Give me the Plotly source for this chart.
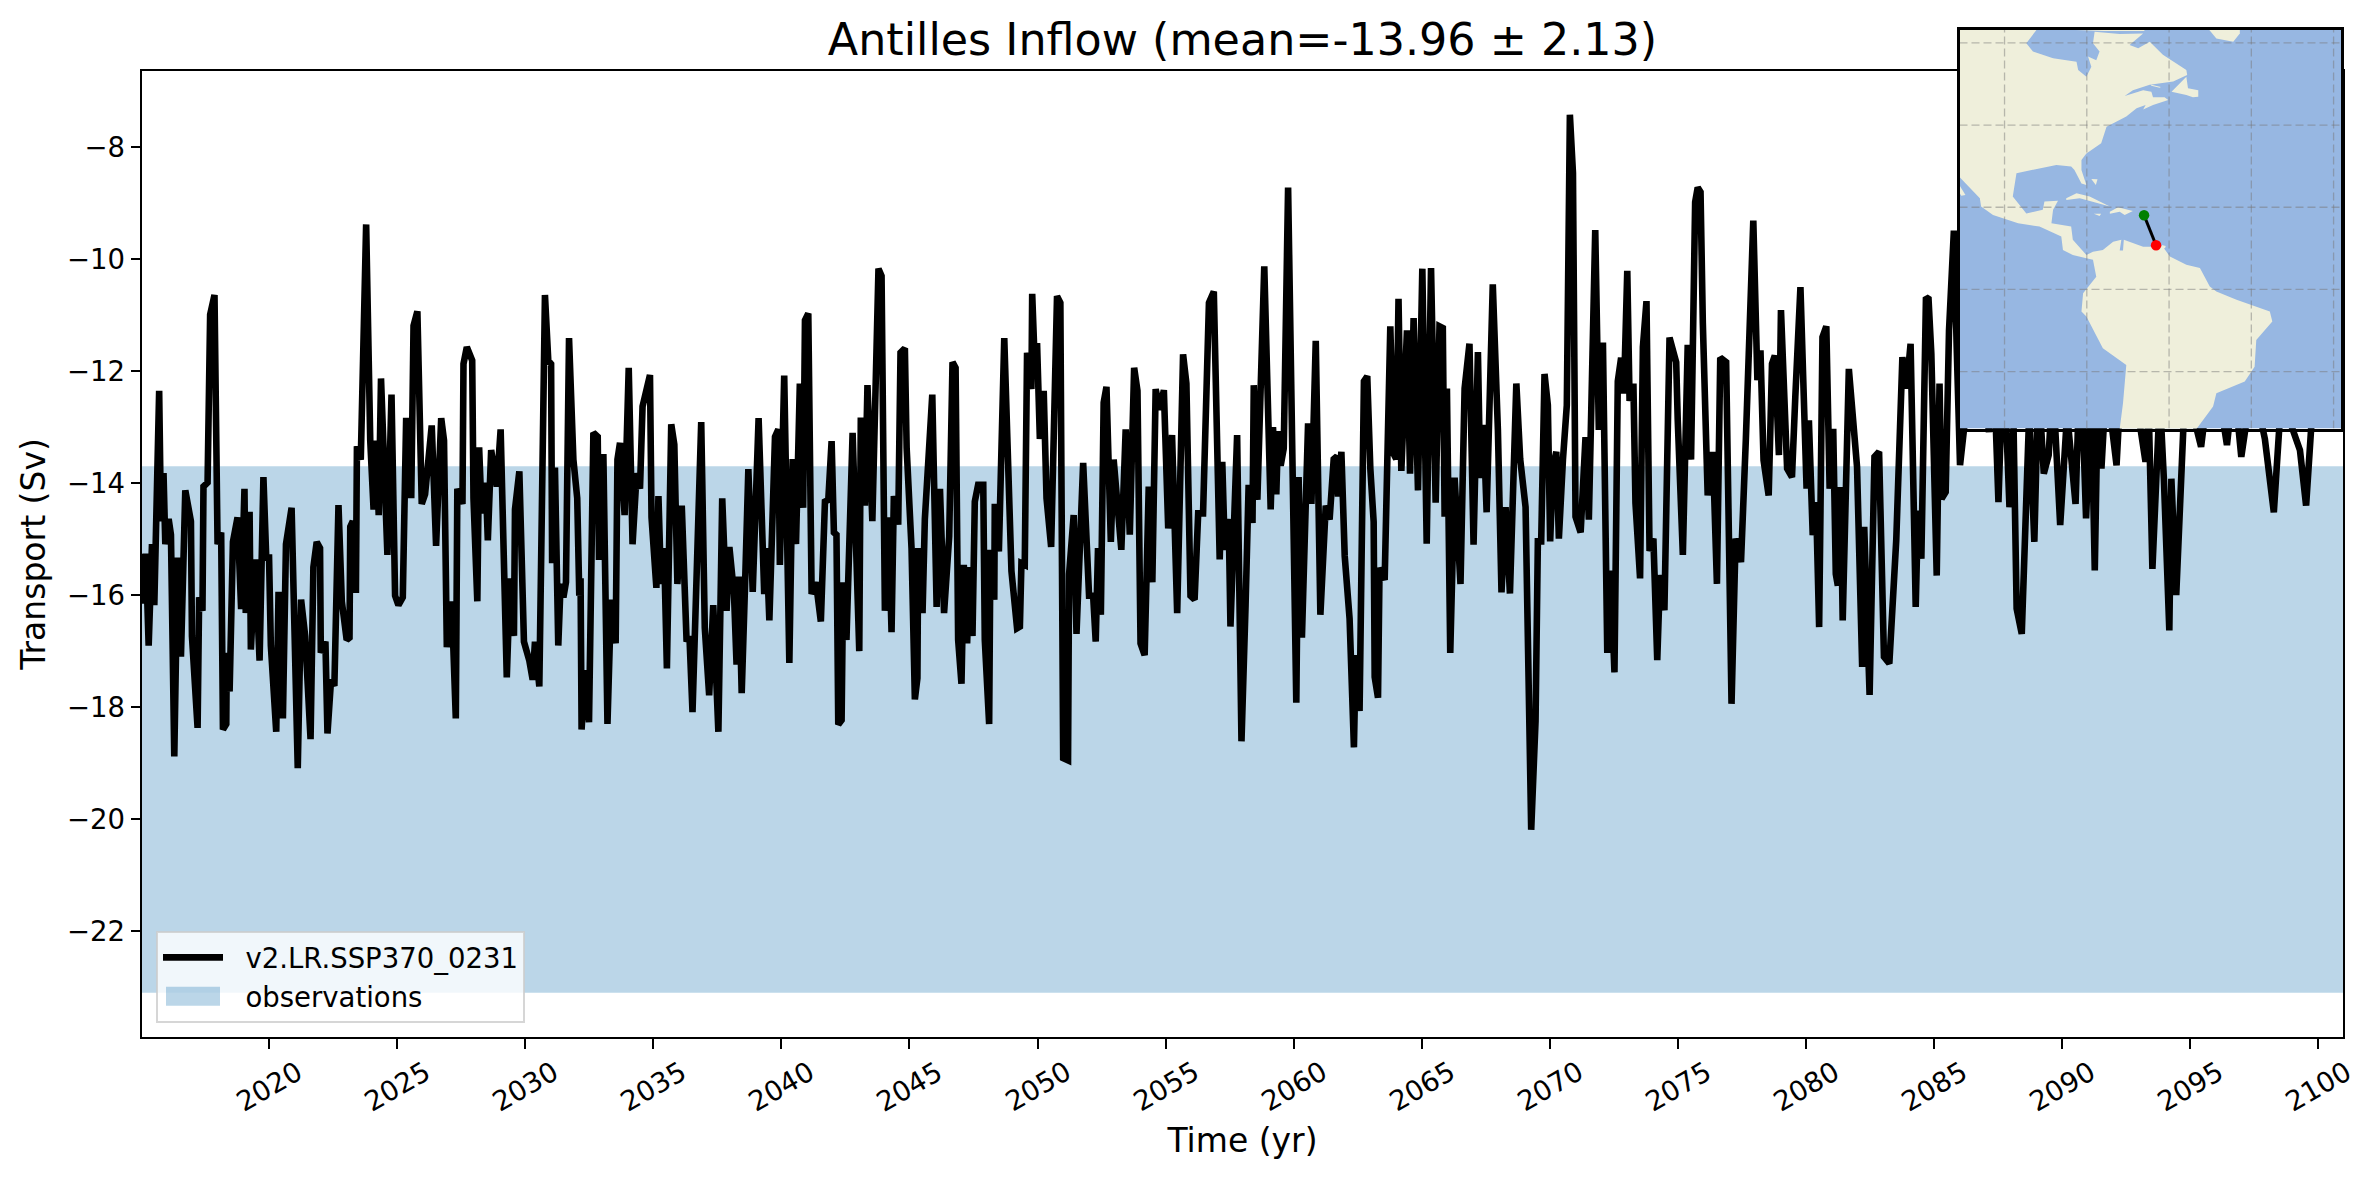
import plotly.graph_objects as go

# ---------- time series ----------
years = [2015.04,2015.07,2015.19,2015.30,2015.43,2015.52,2015.71,2015.78,2015.88,2015.95,2016.08,2016.17,2016.30,2016.43,2016.56,2016.73,2016.95,2016.99,2017.21,2017.27,2017.40,2017.44,2017.60,2017.70,2017.87,2017.99,2018.13,2018.20,2018.33,2018.35,2018.46,2018.59,2018.77,2018.91,2019.04,2019.09,2019.24,2019.29,2019.46,2019.63,2019.78,2019.89,2020.00,2020.07,2020.28,2020.37,2020.54,2020.66,2020.88,2021.12,2021.25,2021.41,2021.62,2021.73,2021.86,2021.99,2022.02,2022.20,2022.28,2022.42,2022.55,2022.71,2022.84,2023.03,2023.14,2023.17,2023.27,2023.39,2023.43,2023.58,2023.79,2023.95,2024.08,2024.18,2024.28,2024.37,2024.62,2024.78,2024.92,2025.05,2025.22,2025.35,2025.48,2025.55,2025.64,2025.79,2025.96,2026.09,2026.35,2026.52,2026.72,2026.83,2026.94,2027.13,2027.29,2027.35,2027.55,2027.59,2027.72,2027.93,2027.98,2028.13,2028.20,2028.30,2028.46,2028.54,2028.67,2028.89,2029.04,2029.28,2029.41,2029.56,2029.60,2029.77,2029.95,2030.16,
2030.29,2030.38,2030.55,2030.77,2030.90,2031.01,2031.05,2031.16,2031.29,2031.38,2031.49,2031.59,2031.71,2031.88,2032.03,2032.11,2032.16,2032.20,2032.33,2032.49,2032.66,2032.83,2032.88,2033.05,2033.21,2033.35,2033.53,2033.60,2033.70,2033.88,2034.04,2034.19,2034.35,2034.48,2034.58,2034.87,2034.93,2035.12,2035.20,2035.30,2035.42,2035.53,2035.70,2035.82,2035.94,2036.11,2036.30,2036.41,2036.53,2036.87,2037.01,2037.18,2037.34,2037.54,2037.69,2037.86,2037.97,2038.15,2038.25,2038.34,2038.45,2038.58,2038.71,2038.88,2039.11,2039.33,2039.42,2039.53,2039.75,2039.88,2039.94,2040.11,2040.31,2040.44,2040.57,2040.72,2040.85,2040.92,2041.05,2041.18,2041.35,2041.54,2041.70,2041.83,2041.96,2042.05,2042.15,2042.22,2042.35,2042.41,2042.54,2042.78,2043.04,2043.10,2043.26,2043.36,2043.55,2043.79,2043.91,2044.04,2044.18,2044.30,2044.39,2044.56,2044.65,2044.82,2044.89,2045.08,2045.21,2045.31,2045.34,2045.51,2045.60,
2045.89,2046.06,2046.19,2046.35,2046.55,2046.68,2046.80,2046.90,2047.03,2047.12,2047.25,2047.36,2047.46,2047.55,2047.68,2047.88,2047.94,2048.11,2048.16,2048.31,2048.33,2048.49,2048.70,2048.98,2049.20,2049.31,2049.37,2049.50,2049.59,2049.76,2049.79,2049.89,2049.98,2050.09,2050.24,2050.35,2050.53,2050.76,2050.89,2051.00,2051.19,2051.23,2051.41,2051.52,2051.78,2052.01,2052.17,2052.27,2052.36,2052.47,2052.58,2052.69,2052.86,2052.97,2053.27,2053.44,2053.60,2053.77,2053.90,2054.02,2054.18,2054.34,2054.48,2054.61,2054.77,2054.93,2055.10,2055.25,2055.45,2055.68,2055.81,2055.97,2056.13,2056.27,2056.46,2056.69,2056.88,2057.11,2057.21,2057.31,2057.46,2057.53,2057.79,2057.96,2058.12,2058.24,2058.39,2058.44,2058.58,2058.85,2059.10,2059.19,2059.32,2059.39,2059.49,2059.61,2059.78,2060.10,2060.19,2060.32,2060.56,2060.69,2060.86,2061.04,2061.25,2061.40,
2061.56,2061.69,2061.73,2061.86,2061.99,2062.18,2062.35,2062.42,2062.57,2062.74,2062.87,2062.99,2063.12,2063.16,2063.29,2063.35,2063.55,2063.77,2063.90,2064.00,2064.09,2064.20,2064.42,2064.54,2064.68,2064.85,2065.02,2065.19,2065.36,2065.54,2065.69,2065.82,2065.89,2065.98,2066.11,2066.28,2066.51,2066.67,2066.86,2067.02,2067.19,2067.28,2067.41,2067.53,2067.77,2067.97,2068.11,2068.27,2068.44,2068.69,2068.84,2069.05,2069.27,2069.44,2069.53,2069.66,2069.79,2069.92,2070.01,2070.12,2070.25,2070.35,2070.51,2070.66,2070.78,2070.90,2071.00,2071.20,2071.39,2071.52,2071.77,2071.91,2072.07,2072.24,2072.37,2072.52,2072.65,2072.78,2072.89,2073.02,2073.11,2073.26,2073.34,2073.52,2073.63,2073.77,2073.89,2074.04,2074.19,2074.30,2074.47,2074.67,2074.93,2074.99,2075.19,2075.38,2075.51,2075.67,2075.77,2075.88,2075.97,2076.16,2076.36,2076.52,2076.65,2076.88,
2077.09,2077.25,2077.46,2077.65,2077.94,2078.10,2078.22,2078.34,2078.54,2078.67,2078.78,2078.94,2079.02,2079.26,2079.45,2079.58,2079.78,2080.02,2080.11,2080.26,2080.39,2080.51,2080.64,2080.79,2080.92,2081.06,2081.16,2081.24,2081.35,2081.43,2081.67,2081.99,2082.19,2082.27,2082.48,2082.67,2082.85,2083.04,2083.25,2083.52,2083.76,2083.92,2084.08,2084.28,2084.37,2084.50,2084.68,2084.78,2084.89,2085.10,2085.21,2085.29,2085.45,2085.58,2085.77,2085.88,2086.01,
2086.66,2087.14,2087.30,2087.51,2087.70,2087.94,2088.10,2088.22,2088.42,2088.71,2088.91,2089.07,2089.28,2089.47,2089.63,2089.92,2090.19,2090.52,2090.71,2090.93,2091.13,2091.27,2091.40,2091.53,2091.72,2092.12,2092.36,2092.77,2093.25,2093.38,2093.52,2093.81,2093.97,2094.18,2094.26,2094.45,2094.78,2095.10,2095.42,2095.74,2096.14,2096.43,2096.70,2096.99,2097.43,2097.91,2098.26,2098.55,2099.28,2099.52,2099.84,2100.20,2100.96]
transport = [-15.26,-16.15,-15.26,-16.90,-15.09,-16.18,-12.35,-14.68,-13.82,-15.09,-14.64,-14.92,-18.88,-15.33,-17.10,-14.13,-14.68,-16.73,-18.37,-16.04,-16.28,-14.06,-13.99,-10.99,-10.64,-15.09,-14.88,-18.40,-18.30,-17.03,-17.72,-15.05,-14.61,-16.25,-14.10,-16.32,-14.51,-16.97,-15.36,-17.17,-13.89,-15.33,-15.33,-16.90,-18.44,-15.94,-18.20,-15.09,-14.44,-19.09,-16.08,-16.73,-18.57,-15.50,-15.05,-15.16,-17.03,-16.83,-18.47,-17.51,-17.62,-14.39,-16.11,-16.80,-16.76,-14.78,-14.68,-15.96,-13.34,-13.58,-9.38,-13.24,-14.47,-13.24,-14.57,-12.13,-15.28,-12.42,-16.01,-16.18,-16.04,-12.89,-12.89,-14.27,-11.19,-10.93,-14.37,-14.20,-12.97,-15.12,-12.84,-13.24,-16.93,-16.11,-18.20,-14.10,-14.37,-11.87,-11.57,-11.81,-14.27,-16.11,-13.36,-14.54,-13.99,-15.02,-13.41,-14.06,-13.04,-17.47,-15.70,-16.73,-14.47,-13.79,-16.83,-17.17,
-17.51,-16.83,-17.63,-10.64,-11.81,-11.87,-15.43,-13.72,-16.90,-15.80,-16.04,-15.77,-11.41,-13.58,-14.27,-16.01,-15.70,-18.40,-17.34,-18.27,-13.10,-13.17,-15.37,-13.48,-18.30,-16.08,-16.86,-13.58,-13.28,-14.57,-11.94,-15.09,-13.82,-14.10,-12.63,-12.07,-14.61,-15.87,-14.23,-15.80,-15.16,-17.31,-12.95,-13.31,-15.80,-14.40,-16.83,-16.73,-18.09,-12.91,-16.59,-17.79,-16.18,-18.44,-14.27,-16.28,-15.14,-15.98,-17.24,-15.67,-17.75,-15.84,-13.75,-15.94,-12.84,-15.98,-15.16,-16.45,-13.17,-13.04,-15.46,-12.08,-17.21,-13.57,-15.09,-12.22,-14.44,-11.09,-10.97,-15.98,-15.77,-16.47,-14.33,-14.30,-13.25,-14.88,-14.92,-18.31,-18.23,-15.77,-16.80,-13.10,-17.00,-12.83,-14.40,-12.25,-14.68,-10.17,-10.30,-16.28,-14.61,-16.66,-14.23,-14.74,-11.67,-11.59,-13.38,-15.16,-17.86,-17.48,-15.16,-16.32,-14.64,
-12.42,-16.21,-14.10,-16.32,-14.95,-11.84,-11.94,-16.80,-17.58,-15.46,-16.86,-15.50,-16.73,-14.33,-14.03,-14.03,-16.80,-18.30,-15.19,-16.08,-14.37,-15.22,-11.41,-15.57,-16.59,-16.56,-15.43,-15.46,-11.67,-12.32,-10.62,-11.87,-11.50,-13.21,-12.35,-14.27,-15.14,-10.66,-10.78,-18.91,-18.95,-15.63,-14.57,-16.69,-13.64,-16.01,-16.01,-16.83,-15.16,-16.35,-12.56,-12.28,-15.05,-13.58,-15.19,-13.04,-14.92,-11.94,-12.35,-16.86,-17.07,-14.06,-15.77,-12.32,-12.69,-12.34,-14.81,-13.14,-16.32,-11.70,-12.22,-16.01,-16.08,-14.54,-14.54,-10.78,-10.58,-15.36,-13.62,-15.19,-14.64,-16.56,-13.14,-18.61,-16.18,-14.03,-14.71,-12.25,-14.30,-10.13,-14.47,-13.00,-14.20,-13.07,-13.69,-13.38,-8.72,-17.92,-13.89,-16.76,-12.93,-14.37,-11.46,-16.35,-14.40,-14.65,
-13.57,-13.52,-14.24,-13.44,-15.30,-16.42,-18.72,-17.07,-18.07,-12.18,-12.09,-13.74,-14.69,-17.46,-17.83,-15.51,-15.73,-11.20,-13.48,-13.57,-10.71,-13.78,-11.27,-13.83,-11.05,-14.13,-10.17,-15.08,-10.16,-14.35,-11.20,-11.23,-14.60,-12.31,-17.03,-13.90,-15.80,-12.31,-11.51,-15.10,-11.66,-13.91,-12.96,-14.52,-10.45,-13.05,-15.95,-14.43,-15.97,-12.22,-13.57,-14.43,-20.19,-18.24,-15.04,-15.04,-12.05,-12.61,-15.04,-13.70,-13.44,-14.99,-13.57,-12.61,-7.42,-8.46,-14.60,-14.88,-13.18,-14.65,-9.48,-13.05,-11.49,-17.03,-15.56,-17.38,-12.18,-11.76,-12.40,-10.21,-12.53,-12.22,-14.35,-15.70,-11.57,-10.75,-15.21,-14.99,-17.16,-15.64,-16.27,-11.40,-11.84,-12.87,-15.28,-11.53,-13.58,-8.98,-8.72,-8.80,-11.14,-14.22,-13.44,-15.80,-11.76,-11.84,
-17.94,-14.99,-15.41,-13.21,-9.31,-12.16,-11.63,-13.59,-14.22,-11.87,-11.72,-13.50,-10.91,-13.74,-13.89,-12.46,-10.50,-14.10,-12.88,-14.93,-14.34,-16.57,-11.39,-11.20,-14.10,-13.03,-15.62,-15.83,-14.07,-16.45,-11.96,-13.71,-17.28,-14.78,-17.78,-13.53,-13.44,-17.10,-17.22,-15.02,-11.75,-12.31,-11.51,-16.21,-14.49,-15.35,-10.68,-10.71,-11.69,-15.65,-12.22,-14.28,-14.16,-11.27,-9.49,-11.57,-13.68,
-11.00,-13.09,-11.57,-14.34,-11.57,-14.43,-13.00,-16.24,-16.69,-12.76,-15.05,-12.16,-13.83,-13.50,-12.16,-14.75,-12.76,-14.37,-11.57,-14.63,-12.40,-15.56,-12.16,-13.74,-12.16,-13.68,-11.57,-12.16,-13.62,-12.76,-15.53,-12.46,-13.95,-16.63,-13.92,-16.00,-12.46,-12.76,-13.35,-12.16,-12.46,-13.32,-12.16,-13.53,-12.16,-13.21,-14.52,-12.46,-13.41,-14.40,-12.16,-11.50,-12.80]

series_name = "v2.LR.SSP370_0231"
band_name = "observations"
obs_low, obs_high = -23.10, -13.70
x_min, x_max = 2015.04, 2100.96
y_min, y_max = -23.89, -6.64
x_ticks = list(range(2020, 2101, 5))
y_ticks = list(range(-22, -7, 2))
title_text = "Antilles Inflow (mean=-13.96 ± 2.13)"

# ---------- inset map, lon/lat ----------
lon_min, lon_max, lat_min, lat_max = -110.95, -18.2, -33.85, 63.15
grid_lons = [-100, -80, -60, -40, -20]
grid_lats = [-20, 0, 20, 40, 60]
section_lon = [-66.08, -63.16]
section_lat = [18.05, 10.75]
mainland_lon = [-115,-92.3,-92.3,-94.7,-93.1,-88.2,-82.5,-82.1,-80.1,-78.9,-79.7,-77.7,-76.9,-78.5,-78.1,-72,-66.3,-69.6,-67.5,-64.7,-61.5,-55.8,-55.6,-59,-64.7,-68.8,-70.8,-66.3,-64.3,-63.9,-61.1,-60.2,-63.9,-66.3,-65.7,-67.9,-70.4,-75.2,-76.5,-80.1,-81.3,-81.3,-80.1,-81.3,-83,-83.8,-87.4,-91.5,-97.1,-98,-94.7,-90.7,-90.3,-87,-88.2,-88.6,-83.8,-83.4,-80.1,-78.5,-76.1,-73.6,-71.6,-72,-71.2,-71,-66.3,-61.5,-59.8,-55.8,-52.5,-50.1,-48.5,-43.6,-35.5,-34.9,-38.8,-39.2,-41.6,-48.5,-49.3,-53.3,-54.5,-73,-72,-71.2,-70.4,-76.1,-80.1,-81.3,-80.9,-77.7,-78.5,-80.1,-83.4,-85.8,-86.2,-91.5,-96.7,-102.8,-105.7,-106,-111.1,-115]
mainland_lat = [66,66,63.1,59.9,57.9,56.3,55.4,53.4,51.8,54.2,56.7,55.8,57.9,59.9,62.7,62.2,62.3,59.5,58.7,60.3,57.1,53.4,52.2,50.6,49.8,48.5,47.1,48.5,48.1,46.8,46.8,46.1,44.9,43.8,44.9,44.1,42.1,39.6,35.6,33.1,31.5,29.1,25.4,25.8,29.1,29.9,30.3,29.5,28.3,22.6,18.5,19.4,21.4,21.6,19.4,16.1,15.3,12.1,8.4,9.2,9.6,11.6,12.1,9.5,9.5,12.1,10.4,10.4,8,6,5.2,0.7,-0.5,-2.5,-5.4,-7.8,-12.3,-18.8,-22.4,-25.3,-28.5,-33.9,-36,-36,-33.9,-27.7,-18.4,-14.3,-6.6,-5.4,-0.9,3.1,7.2,7.6,8.4,9.6,12.9,15.3,16.1,18.1,20.2,22.2,27.5,31]
cuba_lon = [-85,-82.5,-79.3,-74.4,-77.7,-81.7,-85]
cuba_lat = [22.2,23.4,22.6,20.2,21.1,22.2,21.8]
hispaniola_lon = [-74.4,-72.4,-68.8,-70.8,-72,-74.4]
hispaniola_lat = [18.9,20,19.1,18.1,18.9,18.4]
jamaica_lon = [-78.3,-76.5,-76.9]
jamaica_lat = [18.4,18.4,17.9]
puerto_rico_lon = [-67.2,-65.7,-65.8,-67.2]
puerto_rico_lat = [18.5,18.4,18.0,18.0]
newfoundland_lon = [-59.4,-55.8,-55.4,-52.9,-52.9,-54.2,-55.8,-58.6]
newfoundland_lat = [48.1,51.8,49,48.5,46.9,46.8,47.3,47.9]
greenland_lon = [-50.5,-48.5,-44.4,-42.8,-42.8,-50.5]
greenland_lat = [63.5,61.1,60.3,62.3,66,66]
baja_lon = [-112,-109.5,-110.5,-112]
baja_lat = [27,23,22.8,25]
baffin_lon = [-84,-76,-66,-66,-84]
baffin_lat = [63.2,62.9,62.9,66,66]
bahamas_lon = [-78.9,-77.4,-77.8]
bahamas_lat = [26.9,26.8,25.4]
trinidad_lon = [-61.8,-60.8,-61,-61.9]
trinidad_lat = [10.8,10.6,10,10.1]
anticosti_lon = [-64.5,-62,-62.3,-64.3]
anticosti_lat = [49.9,49.3,49.1,49.6]
land_parts = [(mainland_lon, mainland_lat), (cuba_lon, cuba_lat), (hispaniola_lon, hispaniola_lat),
              (jamaica_lon, jamaica_lat), (puerto_rico_lon, puerto_rico_lat),
              (newfoundland_lon, newfoundland_lat), (greenland_lon, greenland_lat),
              (baja_lon, baja_lat), (baffin_lon, baffin_lat), (bahamas_lon, bahamas_lat),
              (trinidad_lon, trinidad_lat), (anticosti_lon, anticosti_lat)]

# ---------- layout geometry ----------
W, H = 2376, 1180
L, R, T, B = 142, 2343, 30, 1037      # plot area that holds both subplots
PW, PH = R - L, B - T
main_top = 71
map_l, map_r, map_t, map_b = 1959.5, 2341, 30, 428.5

FONT = "DejaVu Sans"
fig = go.Figure()

fig.add_trace(go.Scatter(x=[x_min, x_max, x_max, x_min, x_min],
                         y=[obs_high, obs_high, obs_low, obs_low, obs_high],
                         mode="lines", fill="toself", fillcolor="rgba(31,119,180,0.3)",
                         line=dict(width=0), name="\u00a0\u00a0" + band_name, legendrank=2, hoverinfo="skip"))
fig.add_trace(go.Scatter(x=years, y=transport, mode="lines",
                         line=dict(color="black", width=6.6, simplify=False),
                         name="\u00a0\u00a0" + series_name, legendrank=1))

fig.add_trace(go.Scatter(x=[lon_min, lon_max, lon_max, lon_min, lon_min],
                         y=[lat_min, lat_min, lat_max, lat_max, lat_min],
                         xaxis="x2", yaxis="y2", mode="lines", fill="toself", fillcolor="#97b7e2",
                         line=dict(width=0), showlegend=False, hoverinfo="skip"))
for lon, lat in land_parts:
    fig.add_trace(go.Scatter(x=lon + lon[:1], y=lat + lat[:1], xaxis="x2", yaxis="y2",
                             mode="lines", fill="toself", fillcolor="#efefdb",
                             line=dict(width=0, color="#efefdb"), showlegend=False, hoverinfo="skip"))
grid_x, grid_y = [], []
for g in grid_lons:
    grid_x += [g, g, None]
    grid_y += [lat_min, lat_max, None]
for g in grid_lats:
    grid_x += [lon_min, lon_max, None]
    grid_y += [g, g, None]
fig.add_trace(go.Scatter(x=grid_x, y=grid_y, xaxis="x2", yaxis="y2", mode="lines",
                         line=dict(color="rgba(120,120,120,0.48)", width=1.3, dash="8px,4px"),
                         showlegend=False, hoverinfo="skip"))
fig.add_trace(go.Scatter(x=section_lon, y=section_lat, xaxis="x2", yaxis="y2", mode="lines+markers",
                         line=dict(color="black", width=3),
                         marker=dict(size=10.5, color=["#008000", "#ff0000"]),
                         showlegend=False, hoverinfo="skip"))

tick_annotations = [
    dict(x=yr, y=(B - 1086) / PH, xref="x", yref="paper", text=str(yr), showarrow=False,
         textangle=-30, xanchor="center", yanchor="middle",
         font=dict(family=FONT, size=27.5, color="black"))
    for yr in x_ticks
]

fig.update_layout(
    width=W, height=H, autosize=False,
    margin=dict(l=L, r=W - R, t=T, b=H - B, pad=0),
    paper_bgcolor="white", plot_bgcolor="rgba(0,0,0,0)",
    font=dict(family=FONT, size=27.5, color="black"),
    title=dict(text=title_text, x=(L + R) / 2 / W, xanchor="center",
               y=1 - 39 / H, yanchor="middle", yref="container",
               font=dict(family=FONT, size=44.4, color="black")),
    xaxis=dict(domain=[0, 1], range=[x_min, x_max], tickmode="array", tickvals=x_ticks,
               showticklabels=False, ticks="outside", ticklen=9.5, tickwidth=2, tickcolor="black",
               showline=True, linewidth=2, linecolor="black", mirror=True, showgrid=False, zeroline=False,
               title=dict(text="Time (yr)", font=dict(family=FONT, size=33), standoff=81)),
    yaxis=dict(domain=[0, (B - main_top) / PH], range=[y_min, y_max], tickmode="array", tickvals=y_ticks,
               ticks="outside", ticklen=9.5, tickwidth=2, tickcolor="black",
               tickfont=dict(family=FONT, size=27.5),
               showline=True, linewidth=2, linecolor="black", mirror=True, showgrid=False, zeroline=False,
               title=dict(text="Transport (Sv)", font=dict(family=FONT, size=33), standoff=11)),
    xaxis2=dict(domain=[(map_l - L) / PW, (map_r - L) / PW], range=[lon_min, lon_max], anchor="y2",
                showticklabels=False, ticks="", showgrid=False, zeroline=False,
                showline=True, linewidth=2.5, linecolor="black", mirror=True),
    yaxis2=dict(domain=[(B - map_b) / PH, (B - map_t) / PH], range=[lat_min, lat_max], anchor="x2",
                showticklabels=False, ticks="", showgrid=False, zeroline=False,
                showline=True, linewidth=2.5, linecolor="black", mirror=True),
    legend=dict(x=(156 - L) / PW, y=(B - 1023) / PH, xanchor="left", yanchor="bottom",
                bgcolor="rgba(255,255,255,0.8)", bordercolor="rgba(204,204,204,0.8)", borderwidth=2,
                font=dict(family=FONT, size=27.5), itemwidth=60, tracegroupgap=0),
    annotations=tick_annotations,
)

post = """
document.body.style.margin='0';
document.documentElement.style.overflow='hidden';
document.querySelectorAll('.legend .traces').forEach(function(t){
  if (t.textContent.indexOf('observations') >= 0) {
    t.querySelectorAll('.legendfill path').forEach(function(p){ p.setAttribute('d','M8,-9.5h54v19h-54z'); });
  }
});
"""
fig.write_html("out.html", post_script=post, config={"displayModeBar": False})
